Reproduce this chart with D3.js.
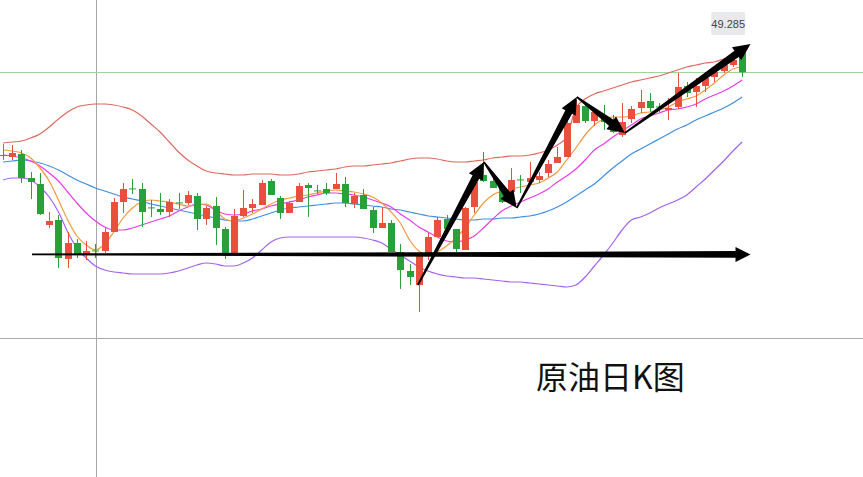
<!DOCTYPE html>
<html><head><meta charset="utf-8">
<script src="https://cdn.jsdelivr.net/npm/d3@7"></script>
<style>html,body{margin:0;padding:0;background:#fff;overflow:hidden}svg{display:block}</style>
</head><body><svg id="c" width="863" height="477"></svg>
<script>
// ---- data (daily candles, price units) ----
const days = d3.range(1, 82).map(d => "D" + d);
const open  = [45.13,45.05,45.20,44.00,43.70,41.65,41.90,39.95,40.75,40.20,40.38,40.35,41.30,42.80,43.48,43.45,42.53,42.45,42.30,42.78,42.75,43.10,41.95,42.60,41.45,40.15,42.10,42.50,42.65,43.85,43.00,42.25,42.80,43.65,43.38,43.45,43.45,43.70,42.70,43.15,42.40,41.50,41.75,40.30,39.35,38.65,40.15,41.05,41.95,41.45,40.40,42.55,44.15,43.85,43.50,43.30,43.93,43.80,43.90,44.25,44.75,45.05,46.75,47.60,46.85,47.10,46.65,46.15,46.95,47.50,47.85,47.58,47.40,47.55,48.60,48.30,48.60,49.05,49.35,49.65,50.50];
const high  = [45.70,45.65,45.40,44.30,44.25,42.30,42.15,41.30,40.95,40.85,40.70,41.50,43.00,43.75,43.95,43.75,42.90,43.25,42.95,43.25,43.35,43.25,42.60,43.05,41.55,42.45,43.40,42.95,43.90,43.95,43.10,42.85,43.75,43.75,43.65,43.75,44.25,44.05,43.25,43.45,42.55,42.55,41.90,40.70,39.70,40.15,41.25,42.05,42.15,41.45,42.55,44.00,45.30,44.10,43.55,44.50,44.15,44.80,44.30,44.90,45.55,46.90,47.90,47.70,47.40,47.65,47.15,47.75,47.60,48.40,48.25,47.75,48.00,49.25,48.80,49.00,49.25,49.55,49.80,50.05,50.60];
const low   = [44.90,44.90,43.75,42.95,42.15,41.50,39.50,39.50,40.00,39.90,40.00,40.25,41.30,42.25,43.20,41.55,42.05,42.15,42.05,42.45,42.65,41.40,41.65,40.65,39.95,40.15,42.05,42.25,42.65,43.15,41.95,42.25,42.80,42.05,43.20,43.15,43.45,42.55,42.50,42.45,41.25,41.50,40.30,38.45,38.65,37.30,39.90,41.05,41.30,40.30,40.40,42.25,43.80,43.50,42.75,43.25,43.25,43.75,43.75,44.05,44.75,45.05,46.75,46.75,46.60,46.40,46.25,46.05,46.75,47.25,47.30,47.30,46.90,47.45,48.05,47.55,48.30,48.80,49.25,49.55,49.05];
const close = [45.15,45.25,44.00,43.80,42.20,41.85,40.00,40.75,40.20,40.35,40.33,41.30,42.80,43.45,43.43,42.30,42.48,42.30,42.80,42.73,43.15,41.95,42.50,41.50,40.15,42.10,42.50,42.70,43.75,43.15,42.25,42.75,43.60,43.50,43.33,43.25,43.70,42.75,43.10,42.45,41.50,41.75,40.30,39.40,39.05,40.15,41.05,41.90,41.45,40.45,42.50,43.80,43.85,43.50,42.80,43.90,43.88,44.00,44.10,44.70,45.05,46.75,47.65,46.85,47.30,46.80,46.30,46.80,47.45,47.80,47.50,47.53,47.50,48.55,48.25,48.60,49.00,49.30,49.65,49.90,49.285];
const ma5   = [45.40,45.35,45.25,45.00,44.50,43.85,42.90,41.90,41.10,40.65,40.40,40.70,41.30,42.00,42.50,42.80,42.90,42.85,42.80,42.70,42.60,42.65,42.70,42.40,41.95,41.85,42.00,42.20,42.45,42.70,42.90,43.00,43.10,43.15,43.25,43.35,43.40,43.35,43.30,43.20,43.05,42.75,42.30,41.75,40.90,40.35,40.15,40.30,40.60,41.00,41.50,42.15,42.75,43.15,43.35,43.45,43.55,43.65,43.75,44.00,44.30,44.90,45.50,46.15,46.65,46.95,47.05,47.05,47.10,47.25,47.30,47.40,47.55,47.80,47.95,48.10,48.40,48.75,49.15,49.45,49.55];
const ma10  = [45.15,45.10,45.00,44.85,44.60,44.25,43.85,43.30,42.75,42.25,41.85,41.55,41.40,41.40,41.50,41.65,41.80,41.95,42.10,42.35,42.55,42.70,42.65,42.40,42.20,42.15,42.20,42.35,42.45,42.60,42.70,42.80,42.90,43.05,43.15,43.25,43.25,43.20,43.15,43.05,42.90,42.75,42.55,42.20,41.90,41.55,41.30,41.05,40.85,40.80,40.90,41.10,41.50,41.95,42.35,42.60,42.80,43.00,43.20,43.45,43.80,44.10,44.45,44.90,45.40,45.70,46.05,46.35,46.65,46.95,47.10,47.25,47.40,47.45,47.55,47.70,47.95,48.15,48.35,48.60,48.90];
const ma20  = [44.80,44.85,44.90,44.85,44.75,44.60,44.40,44.15,43.90,43.70,43.50,43.35,43.20,43.05,42.95,42.85,42.70,42.60,42.50,42.40,42.30,42.20,42.10,42.00,41.90,41.85,41.85,41.95,42.10,42.25,42.40,42.50,42.55,42.60,42.65,42.70,42.75,42.75,42.70,42.65,42.60,42.55,42.45,42.40,42.30,42.20,42.10,42.05,42.00,41.95,41.90,41.90,41.95,41.95,42.00,42.00,42.05,42.10,42.20,42.35,42.55,42.80,43.10,43.40,43.70,44.10,44.50,44.85,45.20,45.45,45.70,45.95,46.20,46.45,46.65,46.90,47.10,47.30,47.50,47.75,48.05];
const bollUp = [45.75,45.80,45.85,46.00,46.20,46.55,46.95,47.30,47.55,47.65,47.70,47.70,47.65,47.55,47.40,47.10,46.70,46.30,45.80,45.30,44.90,44.60,44.35,44.25,44.20,44.15,44.15,44.20,44.20,44.20,44.15,44.15,44.20,44.30,44.35,44.40,44.45,44.55,44.60,44.60,44.65,44.70,44.75,44.85,44.95,45.00,45.00,44.95,44.85,44.80,44.80,44.85,44.90,45.00,45.05,45.10,45.10,45.15,45.25,45.40,45.65,46.05,47.50,47.95,48.20,48.35,48.50,48.65,48.80,48.90,49.00,49.10,49.25,49.40,49.55,49.65,49.75,49.80,49.95,50.05,50.20];
const bollDn = [43.90,44.00,44.00,43.90,43.55,43.05,42.30,41.30,40.50,40.00,39.60,39.40,39.30,39.25,39.20,39.20,39.20,39.20,39.25,39.35,39.50,39.65,39.75,39.70,39.60,39.60,39.75,40.00,40.40,40.80,41.00,41.05,41.05,41.05,41.05,41.05,41.05,41.05,41.05,41.00,40.90,40.75,40.45,40.15,39.85,39.55,39.35,39.20,39.10,39.05,39.00,39.00,38.95,38.90,38.85,38.80,38.80,38.75,38.70,38.65,38.60,38.55,38.65,39.05,39.60,40.15,40.75,41.40,41.90,42.05,42.25,42.50,42.70,42.90,43.15,43.55,43.95,44.40,44.85,45.35,45.80];
const lastPrice = 49.285;
const lastLabel = "49.285";
const titleText = "原油日K图";
// trend arrows drawn on the chart: [candle index, price]
const arrowFrom = [[3.14,40.18],[44.9,38.65],[52.05,44.80],[55.6,42.50],[62.1,48.05],[67.3,46.25]];
const arrowTo   = [[80.9,40.18],[52.05,44.80],[55.6,42.50],[62.1,48.05],[67.3,46.25],[80.9,50.70]];

// ---- chart ----
const W = 863, H = 477;
const svg = d3.select("#c");
const x = d3.scaleLinear().domain([0, days.length - 1]).range([3, 742.2]);
const y = d3.scaleLinear().domain([52.9, 29.05]).range([0, 477]);

// frame lines
svg.append("line").attr("x1", 96.5).attr("x2", 96.5).attr("y1", 0).attr("y2", H).attr("stroke", "#a8a8a8").attr("stroke-width", 1);
svg.append("line").attr("x1", 0).attr("x2", W).attr("y1", 338.5).attr("y2", 338.5).attr("stroke", "#a8a8a8").attr("stroke-width", 1);
svg.append("line").attr("x1", 0).attr("x2", W).attr("y1", Math.round(y(lastPrice)) + 0.5).attr("y2", Math.round(y(lastPrice)) + 0.5).attr("stroke", "#9fd69a").attr("stroke-width", 1);

// indicator lines
const series = [
  {v: bollUp, c: "#dc6a5e"},
  {v: bollDn, c: "#a562ee"},
  {v: ma20, c: "#3f8fe0"},
  {v: ma10, c: "#e83ce6"},
  {v: ma5, c: "#f39a3c"}
];
const line = d3.line().x((d, i) => x(i)).y(d => y(d)).curve(d3.curveMonotoneX);
svg.append("g").selectAll("path").data(series).join("path")
  .attr("d", d => line(d.v)).attr("fill", "none").attr("stroke", d => d.c).attr("stroke-width", 1.2);

// candles
const RED = "#ea4f3d", GREEN = "#27a23a";
const cg = svg.append("g");
const idx = d3.range(days.length);
cg.selectAll("line").data(idx).join("line")
  .attr("x1", i => Math.round(x(i)) + 0.5).attr("x2", i => Math.round(x(i)) + 0.5)
  .attr("y1", i => y(high[i])).attr("y2", i => y(low[i]))
  .attr("stroke", i => close[i] >= open[i] ? RED : GREEN).attr("stroke-width", 1);
cg.selectAll("rect").data(idx).join("rect")
  .attr("x", i => Math.round(x(i)) - 3).attr("width", 7)
  .attr("y", i => y(Math.max(open[i], close[i])))
  .attr("height", i => Math.max(1, Math.abs(y(open[i]) - y(close[i]))))
  .attr("fill", i => close[i] >= open[i] ? RED : GREEN);

// arrows
function arrowPoly(x0, y0, x1, y1, w0, w1, hl, hw) {
  const dx = x1 - x0, dy = y1 - y0, L = Math.hypot(dx, dy);
  const ux = dx / L, uy = dy / L, nx = -uy, ny = ux;
  const bx = x1 - ux * hl, by = y1 - uy * hl;
  return [[x0 + nx * w0, y0 + ny * w0], [bx + nx * w1, by + ny * w1], [bx + nx * hw, by + ny * hw], [x1, y1],
          [bx - nx * hw, by - ny * hw], [bx - nx * w1, by - ny * w1], [x0 - nx * w0, y0 - ny * w0]];
}
const ag = svg.append("g");
arrowFrom.forEach((f, k) => {
  const t = arrowTo[k];
  const pts = k === 0
    ? arrowPoly(x(f[0]), y(f[1]), x(t[0]), y(t[1]), 0.8, 3.3, 15, 7.5)
    : arrowPoly(x(f[0]), y(f[1]), x(t[0]), y(t[1]), 0.8, 3.8, 17, 8);
  ag.append("path").attr("d", "M" + pts.map(p => p.join(",")).join("L") + "Z").attr("fill", "#000");
});

// last price label
const lx = x(days.length - 1);
const lg = svg.append("g");
lg.append("rect").attr("x", lx - 31).attr("y", 12).attr("width", 34).attr("height", 23).attr("rx", 2).attr("fill", "#e8e9ed");
lg.append("text").attr("x", lx - 14).attr("y", 27.5).attr("text-anchor", "middle")
  .attr("font-family", "Arial, 'Liberation Sans', sans-serif").attr("font-size", 11).attr("fill", "#444").text(lastLabel);

// title
svg.append("text").attr("x", 536).attr("y", 389)
  .attr("font-family", "'Noto Sans CJK SC', sans-serif").attr("font-size", 32).attr("fill", "#111").text(titleText);
</script>
</body></html>
